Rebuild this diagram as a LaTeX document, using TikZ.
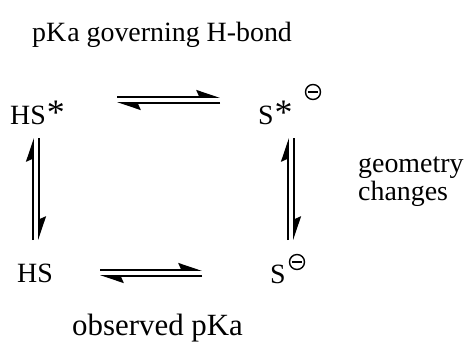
\documentclass[tikz,border=0pt]{standalone}
\usepackage{fontspec}
\setmainfont{Liberation Serif}
\usetikzlibrary{arrows.meta}
\newcommand{\bigast}{{\fontsize{36}{36}\selectfont *}}
\begin{document}
\begin{tikzpicture}[x=1bp,y=1bp,
  lbl/.style={anchor=base west,inner sep=0pt,font=\fontsize{28}{32}\selectfont},
  eq/.style={line width=1.8bp,-{Stealth[harpoon,length=21bp,width=14bp,inset=3bp]}},
  chg/.style={circle,draw,line width=1.4bp,minimum size=15bp,inner sep=0pt}]
\useasboundingbox (0,0) rectangle (468,-344);
\node[lbl] (title) at (32,-41) {pK\kern1bp a governing H-bond};
\node[lbl] (hsstar) at (10,-124) {HS\kern1bp\bigast};
\node[lbl] (sstar) at (258,-124) {S\kern1bp\bigast};
\node[chg] (m1) at (313,-92) {};
\draw[line width=1.4bp] ([xshift=3bp]m1.west) -- ([xshift=-3bp]m1.east);
\node[lbl] (geo) at (358,-172) {geometry};
\node[lbl] (chng) at (358,-200) {changes};
\node[lbl] (hs) at (17,-282) {HS};
\node[lbl] (s) at (270,-283) {S};
\node[chg] (m2) at (297,-262) {};
\draw[line width=1.4bp] ([xshift=3bp]m2.west) -- ([xshift=-3bp]m2.east);
\node[lbl,font=\fontsize{31}{34}\selectfont] (obs) at (72,-335) {observed pKa};
% top equilibrium
\coordinate (t1) at (117,-97);
\coordinate (t2) at (220,-97);
\coordinate (t3) at (117,-103);
\coordinate (t4) at (220,-103);
\draw[eq] (t1) -- (t2);
\draw[eq] (t4) -- (t3);
% bottom equilibrium
\coordinate (b1) at (100,-270);
\coordinate (b2) at (202,-270);
\coordinate (b3) at (100,-276);
\coordinate (b4) at (202,-276);
\draw[eq] (b1) -- (b2);
\draw[eq] (b4) -- (b3);
% left vertical
\coordinate (l1) at (33,-240);
\coordinate (l2) at (33,-138);
\coordinate (l3) at (39,-138);
\coordinate (l4) at (39,-240);
\draw[eq] (l1) -- (l2);
\draw[eq] (l3) -- (l4);
% right vertical
\coordinate (r1) at (288,-240);
\coordinate (r2) at (288,-138);
\coordinate (r3) at (294,-138);
\coordinate (r4) at (294,-240);
\draw[eq] (r1) -- (r2);
\draw[eq] (r3) -- (r4);
\end{tikzpicture}
\end{document}
